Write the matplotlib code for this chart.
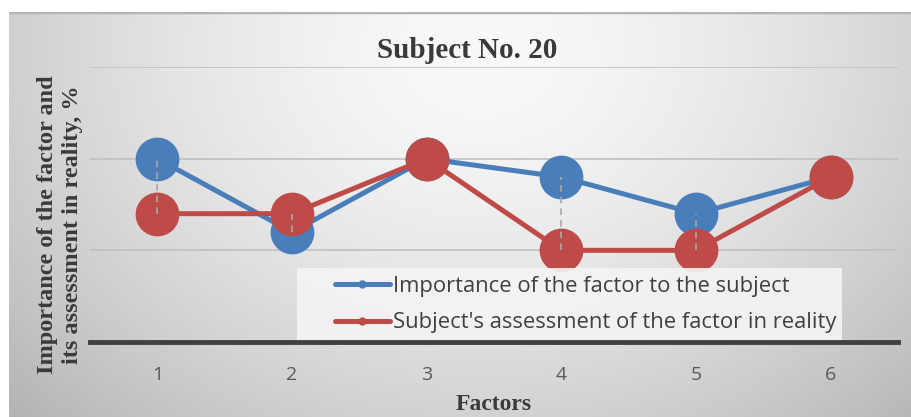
import numpy as np
import matplotlib
matplotlib.use("Agg")
import matplotlib.pyplot as plt
from matplotlib.lines import Line2D
from matplotlib.patches import Rectangle

factors = ["1", "2", "3", "4", "5", "6"]
importance = [20, 12, 20, 18, 14, 18]
assessment = [14, 14, 20, 10, 10, 18]
series_names = ["Importance of the factor to the subject",
                "Subject's assessment of the factor in reality"]
title = "Subject No. 20"
ylabel = "Importance of the factor and\nits assessment in reality, %"
xlabel = "Factors"

blue = "#4a7ebb"
red = "#be4b48"
txt = "#3a3a3a"

W, H = 912, 417
fig = plt.figure(figsize=(W / 100, H / 100), dpi=100)
fig.patch.set_facecolor("white")

# background gradient panel
bg = fig.add_axes([9 / W, 0, (W - 9) / W, (H - 12) / H], zorder=0)
yy, xx = np.mgrid[0:405, 0:903]
r = np.sqrt(((xx - 470) / 520.0) ** 2 + ((yy - 40) / 420.0) ** 2)
val = 0.975 - 0.19 * np.clip(r, 0, 1.3) ** 1.6
img = np.dstack([val, val, val])
bg.imshow(img, aspect="auto", extent=[0, 1, 0, 1], origin="upper")
bg.axhline(1, color="#b4b4b4", lw=2.5)
bg.set_xlim(0, 1); bg.set_ylim(0, 1)
bg.axis("off")

ax = fig.add_axes([90 / W, 75 / H, 808 / W, 275 / H], zorder=2)
ax.patch.set_alpha(0)
x = np.arange(1, len(factors) + 1)
ax.set_xlim(0.5, len(factors) + 0.5)
ax.set_ylim(0, 30)

for gv in [10, 20, 30]:
    ax.axhline(gv, color="#c0c0c0", lw=1.2, zorder=1)

ax.plot(x, importance, color=blue, lw=3.6, marker="o", ms=30.5, zorder=3,
        solid_capstyle="round")
ax.plot(x, assessment, color=red, lw=3.6, marker="o", ms=30.5, zorder=4,
        solid_capstyle="round")
for xi, a, b in zip(x, importance, assessment):
    if a != b:
        ax.plot([xi, xi], [min(a, b), max(a, b)], color="#a8a8a8", lw=1.2,
                ls=(0, (4, 3)), zorder=5)

for s in ["top", "right", "left"]:
    ax.spines[s].set_visible(False)
ax.spines["bottom"].set_color("#404040")
ax.spines["bottom"].set_linewidth(3.5)
ax.spines["bottom"].set_zorder(8)
ax.set_yticks([])
ax.set_xticks(x)
ax.set_xticklabels(factors, fontsize=14, color="#595959", family="Open Sans")
ax.tick_params(axis="x", length=0, pad=17)

fig.text(494 / W, 1 - 405 / H, xlabel, family="Liberation Serif",
         fontweight="bold", fontsize=17, ha="center", va="center", color=txt)
fig.text(60 / W, 1 - 225 / H, ylabel, family="Liberation Serif",
         fontweight="bold", fontsize=17.5, ha="center", va="center",
         rotation=90, linespacing=1.3, multialignment="center", color=txt)
fig.text(467 / W, 1 - 50 / H, title, family="Liberation Serif",
         fontweight="bold", fontsize=21, ha="center", va="center", color=txt)

# legend background box
ax.add_patch(Rectangle(((297 - 90) / 808, 0), (842 - 297) / 808,
                       (342 - 268) / 275, transform=ax.transAxes,
                       facecolor="#f4f4f4", edgecolor="none", alpha=0.9,
                       zorder=6))
handles = [Line2D([], [], color=blue, lw=3.6, marker="o", ms=5,
                  solid_capstyle="round"),
           Line2D([], [], color=red, lw=3.6, marker="o", ms=5,
                  solid_capstyle="round")]
leg = ax.legend(handles, series_names, loc="upper left",
                bbox_to_anchor=((335 - 90) / 808, (342 - 276) / 275),
                prop={"family": "Open Sans", "size": 15.8},
                frameon=False, handlelength=2.5,
                handletextpad=0.15, borderpad=0, labelspacing=0.7,
                borderaxespad=0)
for t in leg.get_texts():
    t.set_color("#404040")
leg.set_zorder(7)

fig.savefig("out.png", dpi=100)
